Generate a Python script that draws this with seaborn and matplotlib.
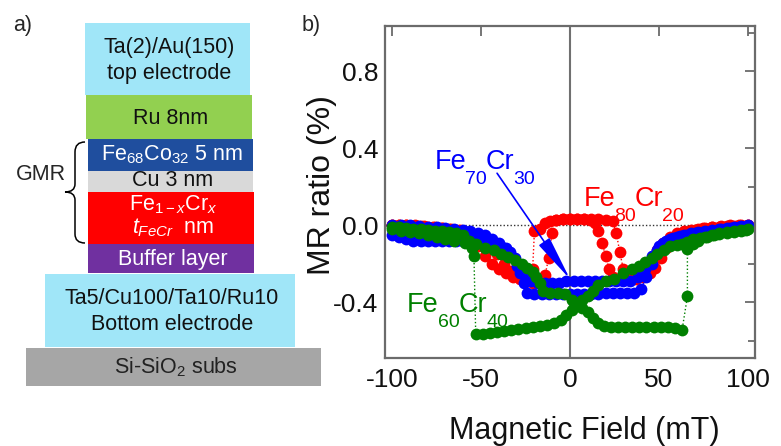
import matplotlib
matplotlib.use("Agg")
import matplotlib.pyplot as plt
from matplotlib.patches import Rectangle, PathPatch
from matplotlib.path import Path
from matplotlib.ticker import MultipleLocator, FixedLocator, FormatStrFormatter
import pandas as pd
import seaborn as sns


# ---------------- panel b) : MR loops, field in mT, MR ratio in % ----------------

# Fe80Cr20
red_up_field = [-100, -96, -92, -88, -84, -80, -76, -72, -68, -64,
                -60, -56, -52, -48, -44, -40, -36, -32, -28, -24,
                -21, -20, -17, -14, -11, -8, -4, 0, 4, 8,
                12, 16, 20, 24, 26, 28, 30, 33, 37, 41,
                45, 48, 51, 54, 58, 62, 66, 70, 75, 80,
                85, 90, 95, 100]
red_up_mr = [0.0, 0.0, 0.0, -0.005, -0.005, -0.01, -0.01, -0.015, -0.02, -0.025,
             -0.04, -0.07, -0.11, -0.16, -0.2, -0.23, -0.25, -0.27, -0.28, -0.28,
             -0.23, -0.03, -0.02, 0.01, 0.02, 0.025, 0.03, 0.03, 0.03, 0.03,
             0.03, 0.03, 0.025, 0.02, -0.04, -0.14, -0.23, -0.27, -0.28, -0.27,
             -0.25, -0.22, -0.17, -0.12, -0.07, -0.05, -0.035, -0.025, -0.015, -0.01,
             -0.005, 0.0, 0.0, 0.0]
red_down_field = [100, 96, 92, 88, 84, 80, 76, 72, 68, 64,
                  60, 56, 52, 49, 46, 43, 40, 36, 32, 28,
                  24, 22, 20, 18, 16, 14, 11, 8, 4, 0,
                  -4, -8, -10, -12, -14, -17, -21, -25, -29, -33,
                  -37, -41, -45, -49, -53, -57, -62, -67, -72, -77,
                  -82, -87, -92, -96, -100]
red_down_mr = [0.0, 0.0, -0.005, -0.005, -0.01, -0.01, -0.015, -0.02, -0.025, -0.03,
               -0.04, -0.06, -0.09, -0.13, -0.17, -0.21, -0.24, -0.27, -0.28, -0.28,
               -0.27, -0.23, -0.16, -0.09, -0.03, 0.01, 0.025, 0.03, 0.03, 0.03,
               0.03, 0.025, -0.04, -0.17, -0.26, -0.3, -0.3, -0.29, -0.27, -0.24,
               -0.2, -0.15, -0.1, -0.07, -0.05, -0.035, -0.025, -0.02, -0.015, -0.01,
               -0.005, 0.0, 0.0, 0.0, 0.0]

# Fe70Cr30
blue_up_field = [-100, -96, -92, -88, -84, -80, -76, -72, -68, -64,
                 -60, -56, -52, -48, -44, -40, -37, -34, -31, -28,
                 -25, -22, -18, -14, -10, -6, -2, 2, 6, 10,
                 14, 18, 22, 26, 30, 34, 38, 42, 46, 50,
                 54, 58, 62, 66, 70, 75, 80, 85, 90, 95,
                 100]
blue_up_mr = [-0.05, -0.06, -0.07, -0.08, -0.08, -0.08, -0.08, -0.08, -0.08, -0.08,
              -0.08, -0.08, -0.085, -0.09, -0.1, -0.11, -0.12, -0.14, -0.17, -0.21,
              -0.26, -0.29, -0.3, -0.3, -0.3, -0.3, -0.29, -0.29, -0.29, -0.29,
              -0.29, -0.29, -0.29, -0.29, -0.29, -0.29, -0.27, -0.23, -0.16, -0.11,
              -0.08, -0.065, -0.055, -0.05, -0.04, -0.035, -0.03, -0.02, -0.015, -0.01,
              -0.01]
blue_down_field = [100, 96, 92, 88, 84, 80, 76, 72, 68, 64,
                   60, 56, 52, 49, 46, 43, 40, 36, 32, 28,
                   24, 20, 16, 12, 8, 4, 0, -4, -8, -12,
                   -16, -20, -24, -26, -28, -30, -33, -36, -40, -44,
                   -48, -52, -56, -60, -65, -70, -75, -80, -85, -90,
                   -95, -100]
blue_down_mr = [0.0, -0.005, -0.01, -0.015, -0.02, -0.025, -0.03, -0.035, -0.04, -0.05,
                -0.06, -0.07, -0.09, -0.13, -0.2, -0.27, -0.33, -0.35, -0.35, -0.35,
                -0.35, -0.35, -0.355, -0.355, -0.355, -0.36, -0.36, -0.36, -0.36, -0.36,
                -0.36, -0.36, -0.35, -0.3, -0.25, -0.21, -0.16, -0.12, -0.09, -0.07,
                -0.05, -0.04, -0.03, -0.025, -0.02, -0.015, -0.01, -0.01, -0.005, 0.0,
                0.0, 0.0]

# Fe60Cr40
green_up_field = [-100, -96, -92, -88, -84, -80, -76, -72, -68, -64,
                  -60, -57, -55, -54, -53, -49, -45, -41, -37, -33,
                  -29, -25, -21, -17, -13, -9, -5, -2, 1, 4,
                  7, 10, 13, 16, 20, 25, 30, 35, 39, 42,
                  46, 49, 53, 56, 60, 63, 66, 69, 73, 77,
                  81, 84, 88, 92, 96, 99]
green_up_mr = [-0.01, -0.01, -0.015, -0.02, -0.02, -0.025, -0.03, -0.03, -0.035, -0.04,
               -0.05, -0.08, -0.12, -0.16, -0.565, -0.565, -0.56, -0.555, -0.55, -0.545,
               -0.54, -0.535, -0.53, -0.525, -0.52, -0.51, -0.49, -0.465, -0.44, -0.41,
               -0.39, -0.37, -0.34, -0.31, -0.29, -0.28, -0.25, -0.23, -0.21, -0.19,
               -0.17, -0.15, -0.13, -0.11, -0.105, -0.1, -0.085, -0.07, -0.065, -0.06,
               -0.05, -0.045, -0.04, -0.035, -0.03, -0.025]
green_down_field = [100, 96, 92, 88, 84, 80, 76, 72, 69, 66,
                    66, 63, 59, 55, 51, 47, 43, 39, 35, 31,
                    27, 23, 19, 16, 13, 10, 7, 4, 1, -3,
                    -7, -11, -15, -17, -19, -21, -24, -27, -31, -35,
                    -39, -43, -48, -53, -59, -65, -70, -75, -80, -85,
                    -90, -95, -100]
green_down_mr = [-0.02, -0.025, -0.03, -0.035, -0.04, -0.05, -0.06, -0.08, -0.1, -0.125,
                 -0.37, -0.545, -0.535, -0.53, -0.53, -0.53, -0.53, -0.53, -0.53, -0.53,
                 -0.53, -0.53, -0.525, -0.51, -0.48, -0.45, -0.43, -0.41, -0.39, -0.36,
                 -0.35, -0.35, -0.34, -0.3, -0.27, -0.245, -0.22, -0.2, -0.18, -0.165,
                 -0.15, -0.13, -0.12, -0.1, -0.09, -0.08, -0.07, -0.06, -0.05, -0.04,
                 -0.035, -0.03, -0.02]

samples = ["Fe80Cr20", "Fe70Cr30", "Fe60Cr40"]
sample_colors = ["#FF0000", "#0000FF", "#008000"]
x_ticks = [-100, -50, 0, 50, 100]

# ---------------- panel a) : layer stack ----------------
layer_text = [["Ta(2)/Au(150)", "top electrode"],
              ["Ru 8nm"],
              ["Fe$_{68}$Co$_{32}$ 5 nm"],
              ["Cu 3 nm"],
              [r"Fe$_{\mathit{1-x}}$Cr$_{\mathit{x}}$", r"$\mathit{t}_{\mathit{FeCr}}$  nm"],
              ["Buffer layer"],
              ["Ta5/Cu100/Ta10/Ru10", "Bottom electrode"],
              ["Si-SiO$_2$ subs"]]
# box extents in figure pixels (x0, x1, top, bottom) and text rows
layer_boxes = [(85, 250, 23, 95), (86, 252, 95, 139), (88, 253, 139, 171),
               (88, 253, 171, 192), (88, 254, 192, 244), (88, 254, 244, 273),
               (45, 295, 274, 347), (26, 321, 348, 386)]
layer_rows = [[47, 73], [118], [155], [181], [205, 228], [259], [298, 325], [367]]
layer_fill = ["#A0E6F8", "#92D050", "#1F4E9E", "#D9D9D9",
              "#FF0000", "#7030A0", "#A0E6F8", "#A6A6A6"]
layer_ink = ["#111111", "#111111", "white", "#111111",
             "white", "white", "#111111", "#222222"]


sns.set_theme(style="white")
plt.rcParams['font.family'] = ['Liberation Sans', 'DejaVu Sans']
plt.rcParams['mathtext.fontset'] = 'custom'
plt.rcParams['mathtext.rm'] = 'Liberation Sans'
plt.rcParams['mathtext.it'] = 'Liberation Sans:italic'
plt.rcParams['mathtext.bf'] = 'Liberation Sans:bold'
plt.rcParams['axes.unicode_minus'] = False

fig = plt.figure(figsize=(7.81, 4.46), dpi=100)

# ---- a) layer stack drawn in pixel coordinates ----
ax0 = fig.add_axes([0, 0, 340 / 781, 1])
ax0.set_xlim(0, 340)
ax0.set_ylim(446, 0)
ax0.axis('off')

for box, rows, lines, fc, ink in zip(layer_boxes, layer_rows, layer_text, layer_fill, layer_ink):
    x0, x1, top, bot = box
    ax0.add_patch(Rectangle((x0, top), x1 - x0, bot - top, facecolor=fc, edgecolor='none'))
    for y, s in zip(rows, lines):
        ax0.text((x0 + x1) / 2 + 2, y, s, ha='center', va='center', fontsize=15.5, color=ink)

# GMR brace
verts = [(85, 142), (75, 142), (75, 152), (75, 184), (75, 192), (65, 192),
         (75, 192), (75, 200), (75, 234), (75, 243), (85, 243)]
codes = [Path.MOVETO, Path.CURVE3, Path.CURVE3, Path.LINETO, Path.CURVE3, Path.CURVE3,
         Path.CURVE3, Path.CURVE3, Path.LINETO, Path.CURVE3, Path.CURVE3]
ax0.add_patch(PathPatch(Path(verts, codes), facecolor='none', edgecolor='black', lw=1.1))
ax0.text(41, 175, "GMR", ha='center', va='center', fontsize=15.5)
ax0.text(13, 25, "a)", ha='left', va='center', fontsize=15.5)
ax0.text(302, 25, "b)", ha='left', va='center', fontsize=15.5)

# ---- b) MR loops ----
ax = fig.add_axes([385 / 781, 88 / 446, 370 / 781, 332 / 446])

loops = {
    "Fe80Cr20": [(red_up_field, red_up_mr), (red_down_field, red_down_mr)],
    "Fe70Cr30": [(blue_up_field, blue_up_mr), (blue_down_field, blue_down_mr)],
    "Fe60Cr40": [(green_up_field, green_up_mr), (green_down_field, green_down_mr)],
}
frames = []
for sample, branches in loops.items():
    for tag, (h, mr) in zip(["up", "down"], branches):
        frames.append(pd.DataFrame({"field": h, "mr": mr, "sample": sample, "sweep": tag}))
df = pd.concat(frames, ignore_index=True)

ax.axvline(0, color='#707070', lw=1.5, zorder=1)
ax.axhline(0, color='#333333', lw=1.0, ls=(0, (1, 1.5)), zorder=1)

sns.lineplot(data=df, x="field", y="mr", hue="sample", hue_order=samples,
             palette=sample_colors, units="sweep", estimator=None, sort=False,
             marker="o", markersize=8.5, markeredgewidth=0, linestyle=":",
             linewidth=1.0, legend=False, ax=ax)

ax.set_xlim(-104, 104)
ax.set_ylim(-0.69, 1.035)
ax.xaxis.set_major_locator(FixedLocator(x_ticks))
ax.yaxis.set_major_locator(MultipleLocator(0.4))
ax.yaxis.set_minor_locator(MultipleLocator(0.2))
ax.yaxis.set_major_formatter(FormatStrFormatter('%.1f'))
ax.tick_params(which='both', direction='in', top=True, right=True,
               color='#6b6b6b', width=1.3, labelsize=19, labelcolor='#111111')
ax.tick_params(which='major', length=7, pad=5)
ax.tick_params(which='minor', length=5)
ax.tick_params(axis='x', pad=7)
for s in ax.spines.values():
    s.set_color('#6b6b6b')
    s.set_linewidth(1.6)

ax.set_xlabel("Magnetic Field (mT)", fontsize=22, color='#111111')
ax.xaxis.set_label_coords(0.538, -0.175)
ax.set_ylabel("MR ratio (%)", fontsize=23, color='#111111')
ax.yaxis.set_label_coords(-0.13, 0.52)


def formula(x, y, parts, color):
    # element symbols at 20 pt, compositions hang below the baseline
    prev = ax.text(x, y, parts[0], color=color, fontsize=19.5, va='baseline', ha='left')
    for i, p in enumerate(parts[1:], start=1):
        if i % 2 == 1:
            prev = ax.annotate(p, xy=(1, y), xycoords=(prev, 'data'), xytext=(-0.8, -1),
                               textcoords='offset points', va='top', ha='left',
                               fontsize=14, color=color)
        else:
            prev = ax.annotate(p, xy=(1, y), xycoords=(prev, 'data'), xytext=(-0.8, 0),
                               textcoords='offset points', va='baseline', ha='left',
                               fontsize=19.5, color=color)


formula(-76, 0.291, ["Fe", "70", "Cr", "30"], "#0000FF")
formula(7.5, 0.099, ["Fe", "80", "Cr", "20"], "#FF0000")
formula(-91.5, -0.452, ["Fe", "60", "Cr", "40"], "#008000")

ax.annotate("", xy=(0, -0.28), xytext=(-41, 0.27),
            arrowprops=dict(arrowstyle="-|>,head_length=1.4,head_width=0.2",
                            mutation_scale=20, color="#0000FF", lw=1.2,
                            shrinkA=0, shrinkB=0))

fig.savefig("out.png", dpi=100)
